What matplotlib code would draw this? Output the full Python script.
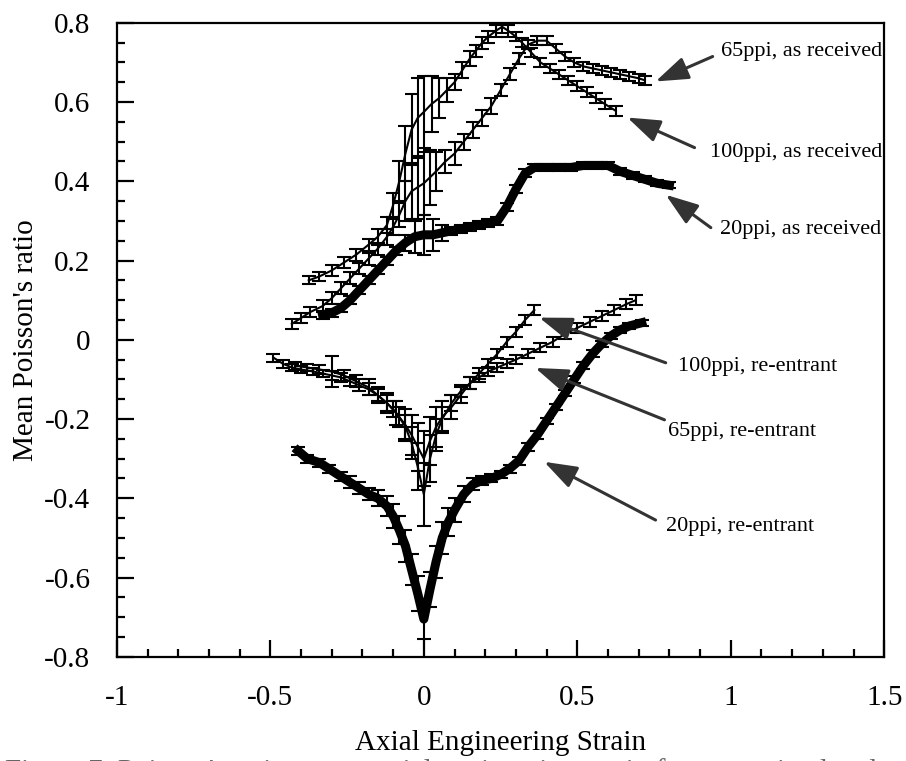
import matplotlib
matplotlib.use("Agg")
import matplotlib.pyplot as plt
from matplotlib.ticker import MultipleLocator, FuncFormatter

plt.rcParams['font.family'] = ['Liberation Serif', 'DejaVu Serif']
plt.rcParams['axes.unicode_minus'] = False

# ---------------- data ----------------
x_100_ar = [-0.375, -0.34, -0.30, -0.26, -0.22, -0.18, -0.15, -0.12, -0.10, -0.08, -0.06, -0.04, -0.02, 0.0,
            0.025, 0.05, 0.075, 0.10, 0.125, 0.15, 0.17, 0.19, 0.21, 0.235, 0.255, 0.275, 0.30, 0.32, 0.35,
            0.38, 0.41, 0.44, 0.47, 0.50, 0.53, 0.56, 0.59, 0.625]
y_100_ar = [0.15, 0.16, 0.175, 0.195, 0.215, 0.24, 0.26, 0.29, 0.34, 0.40, 0.47, 0.53, 0.56, 0.575,
            0.595, 0.61, 0.63, 0.65, 0.68, 0.71, 0.73, 0.75, 0.765, 0.78, 0.79, 0.78, 0.765, 0.75, 0.725,
            0.70, 0.685, 0.67, 0.655, 0.64, 0.625, 0.61, 0.595, 0.578]
e_100_ar = [0.01, 0.012, 0.015, 0.015, 0.015, 0.015, 0.02, 0.02, 0.03, 0.05, 0.07, 0.09, 0.1, 0.09,
            0.07, 0.05, 0.03, 0.02, 0.02, 0.02, 0.015, 0.015, 0.015, 0.015, 0.015, 0.015, 0.012, 0.012, 0.012,
            0.012, 0.012, 0.012, 0.012, 0.012, 0.012, 0.012, 0.012, 0.012]

x_65_ar = [-0.43, -0.40, -0.37, -0.33, -0.30, -0.27, -0.24, -0.21, -0.18, -0.15, -0.12, -0.10, -0.08, -0.06,
           -0.04, -0.02, 0.0, 0.02, 0.04, 0.07, 0.10, 0.13, 0.16, 0.19, 0.22, 0.25, 0.28, 0.31, 0.34, 0.37,
           0.40, 0.43, 0.46, 0.49, 0.52, 0.55, 0.58, 0.61, 0.64, 0.67, 0.70, 0.72]
y_65_ar = [0.04, 0.055, 0.07, 0.085, 0.105, 0.13, 0.155, 0.18, 0.205, 0.23, 0.26, 0.285, 0.315, 0.35,
           0.375, 0.385, 0.395, 0.41, 0.425, 0.45, 0.47, 0.50, 0.53, 0.56, 0.59, 0.63, 0.67, 0.71, 0.745, 0.755,
           0.755, 0.735, 0.715, 0.70, 0.69, 0.685, 0.68, 0.675, 0.67, 0.665, 0.66, 0.655]
e_65_ar = [0.012, 0.012, 0.012, 0.015, 0.015, 0.015, 0.015, 0.015, 0.015, 0.015, 0.02, 0.02, 0.03, 0.05,
           0.07, 0.08, 0.08, 0.07, 0.05, 0.03, 0.03, 0.02, 0.02, 0.02, 0.02, 0.015, 0.015, 0.015, 0.012, 0.012,
           0.012, 0.012, 0.012, 0.012, 0.012, 0.012, 0.012, 0.012, 0.012, 0.012, 0.012, 0.012]

x_20_ar = [-0.33, -0.30, -0.27, -0.24, -0.21, -0.18, -0.15, -0.12, -0.09, -0.06, -0.03, 0.0, 0.03, 0.06,
           0.09, 0.12, 0.15, 0.18, 0.21, 0.24, 0.27, 0.30, 0.33, 0.36, 0.40, 0.44, 0.48, 0.52, 0.56, 0.60,
           0.64, 0.68, 0.72, 0.76, 0.80]
y_20_ar = [0.063, 0.068, 0.08, 0.10, 0.125, 0.15, 0.175, 0.20, 0.225, 0.245, 0.26, 0.265, 0.265, 0.27,
           0.275, 0.28, 0.285, 0.29, 0.295, 0.30, 0.335, 0.38, 0.42, 0.435, 0.435, 0.435, 0.435, 0.44, 0.44, 0.44,
           0.425, 0.415, 0.405, 0.395, 0.39]
e_20_ar = [0.01, 0.01, 0.01, 0.01, 0.01, 0.01, 0.01, 0.01, 0.01, 0.02, 0.04, 0.05, 0.04, 0.02,
           0.01, 0.01, 0.01, 0.01, 0.01, 0.01, 0.01, 0.01, 0.01, 0.008, 0.008, 0.008, 0.008, 0.008, 0.008, 0.008,
           0.008, 0.008, 0.008, 0.008, 0.008]

x_65_re = [-0.49, -0.46, -0.43, -0.40, -0.36, -0.33, -0.30, -0.27, -0.24, -0.21, -0.18, -0.15, -0.12, -0.10,
           -0.08, -0.06, -0.04, -0.02, 0.0, 0.02, 0.04, 0.06, 0.09, 0.12, 0.15, 0.18, 0.21, 0.24, 0.27, 0.30,
           0.34, 0.38, 0.42, 0.46, 0.50, 0.54, 0.58, 0.62, 0.66, 0.69]
y_65_re = [-0.045, -0.06, -0.07, -0.075, -0.08, -0.085, -0.09, -0.095, -0.105, -0.115, -0.125, -0.14, -0.16, -0.175,
           -0.195, -0.22, -0.26, -0.32, -0.39, -0.30, -0.24, -0.20, -0.16, -0.13, -0.11, -0.095, -0.08, -0.07, -0.06, -0.05,
           -0.035, -0.02, -0.005, 0.015, 0.03, 0.045, 0.06, 0.075, 0.09, 0.10]
e_65_re = [0.01, 0.01, 0.01, 0.01, 0.01, 0.01, 0.012, 0.012, 0.012, 0.015, 0.015, 0.015, 0.02, 0.02,
           0.025, 0.03, 0.04, 0.06, 0.08, 0.06, 0.04, 0.03, 0.02, 0.015, 0.015, 0.012, 0.012, 0.012, 0.012, 0.012,
           0.012, 0.012, 0.012, 0.012, 0.012, 0.012, 0.012, 0.012, 0.012, 0.012]

x_100_re = [-0.42, -0.38, -0.34, -0.30, -0.26, -0.22, -0.18, -0.15, -0.12, -0.09, -0.06, -0.04, -0.02, 0.0,
            0.02, 0.04, 0.06, 0.09, 0.12, 0.15, 0.18, 0.21, 0.24, 0.27, 0.30, 0.33, 0.36]
y_100_re = [-0.065, -0.07, -0.075, -0.08, -0.09, -0.105, -0.12, -0.14, -0.16, -0.185, -0.215, -0.24, -0.27, -0.30,
            -0.255, -0.22, -0.195, -0.17, -0.14, -0.11, -0.085, -0.06, -0.035, -0.005, 0.02, 0.05, 0.075]
e_100_re = [0.01, 0.01, 0.012, 0.04, 0.015, 0.015, 0.02, 0.02, 0.025, 0.03, 0.04, 0.05, 0.06, 0.07,
            0.06, 0.05, 0.04, 0.03, 0.02, 0.015, 0.015, 0.012, 0.012, 0.012, 0.012, 0.012, 0.012]

x_20_re = [-0.41, -0.38, -0.34, -0.31, -0.27, -0.24, -0.21, -0.18, -0.15, -0.12, -0.10, -0.08, -0.06, -0.04,
           -0.02, 0.0, 0.02, 0.04, 0.06, 0.08, 0.10, 0.13, 0.16, 0.19, 0.22, 0.25, 0.28, 0.31, 0.34, 0.37,
           0.40, 0.43, 0.46, 0.49, 0.52, 0.55, 0.58, 0.61, 0.64, 0.67, 0.71]
y_20_re = [-0.28, -0.30, -0.31, -0.325, -0.345, -0.36, -0.375, -0.39, -0.40, -0.42, -0.445, -0.48, -0.52, -0.58,
           -0.64, -0.705, -0.63, -0.56, -0.50, -0.46, -0.43, -0.39, -0.365, -0.355, -0.35, -0.34, -0.325, -0.305, -0.27, -0.24,
           -0.205, -0.17, -0.135, -0.10, -0.065, -0.035, -0.01, 0.01, 0.025, 0.035, 0.043]
e_20_re = [0.01, 0.01, 0.01, 0.01, 0.012, 0.015, 0.015, 0.015, 0.02, 0.025, 0.03, 0.035, 0.04, 0.04,
           0.045, 0.05, 0.045, 0.04, 0.04, 0.035, 0.03, 0.02, 0.015, 0.012, 0.01, 0.01, 0.01, 0.01, 0.01, 0.01,
           0.008, 0.008, 0.008, 0.008, 0.008, 0.008, 0.008, 0.008, 0.008, 0.008, 0.008]

labels = ["65ppi, as received", "100ppi, as received", "20ppi, as received",
          "100ppi, re-entrant", "65ppi, re-entrant", "20ppi, re-entrant"]
label_pos = [(0.967, 0.727), (0.931, 0.472), (0.964, 0.278),
             (0.827, -0.068), (0.794, -0.232), (0.788, -0.472)]
arrow_tail = [(0.941, 0.715), (0.882, 0.485), (0.935, 0.283),
              (0.788, -0.058), (0.784, -0.202), (0.755, -0.455)]
arrow_tip = [(0.755, 0.652), (0.663, 0.561), (0.788, 0.366),
             (0.376, 0.056), (0.363, -0.071), (0.392, -0.308)]

# ---------------- figure ----------------
fig = plt.figure(figsize=(9.06, 7.61), dpi=100)
ax = fig.add_axes([0.129, 0.137, 0.847, 0.833])

thin = dict(color='black', lw=1.5, elinewidth=1.5, capsize=5, capthick=1.5)
thick = dict(color='black', lw=6.5, elinewidth=1.5, capsize=5, capthick=1.5)

ax.errorbar(x_100_ar, y_100_ar, yerr=e_100_ar, **thin)
ax.errorbar(x_65_ar, y_65_ar, yerr=e_65_ar, **thin)
ax.errorbar(x_20_ar, y_20_ar, yerr=e_20_ar, **thick)
ax.errorbar(x_65_re, y_65_re, yerr=e_65_re, **thin)
ax.errorbar(x_100_re, y_100_re, yerr=e_100_re, **thin)
ax.errorbar(x_20_re, y_20_re, yerr=e_20_re, **thick)

for lab, tp, tl, tip in zip(labels, label_pos, arrow_tail, arrow_tip):
    ax.text(tp[0], tp[1], lab, fontsize=16, ha='left', va='center')
    ax.annotate('', xy=tip, xytext=tl,
                arrowprops=dict(arrowstyle='-|>,head_length=1.0,head_width=0.35',
                                color='#333333', lw=2.2, mutation_scale=20,
                                shrinkA=0, shrinkB=0))

ax.set_xlim(-1, 1.5)
ax.set_ylim(-0.8, 0.8)
ax.xaxis.set_major_locator(MultipleLocator(0.5))
ax.xaxis.set_minor_locator(MultipleLocator(0.1))
ax.yaxis.set_major_locator(MultipleLocator(0.2))
ax.yaxis.set_minor_locator(MultipleLocator(0.05))
fmt = FuncFormatter(lambda v, p: '%g' % round(v, 6))
ax.xaxis.set_major_formatter(fmt)
ax.yaxis.set_major_formatter(fmt)
ax.tick_params(which='both', direction='in', top=False, right=False, width=1.6)
ax.tick_params(which='major', length=12, labelsize=21)
ax.tick_params(axis='y', which='major', pad=19)
ax.tick_params(axis='x', which='major', pad=20)
ax.tick_params(which='minor', length=6)
for s in ax.spines.values():
    s.set_linewidth(1.6)

ax.set_xlabel('Axial Engineering Strain', fontsize=21, labelpad=14)
ax.set_ylabel("Mean Poisson's ratio", fontsize=21, labelpad=4)

fig.text(0.005, 0.004, "Figure 7: Poisson's ratio versus axial engineering strain for as received and re-entrant foams",
         fontsize=21, color='#666666', ha='left', va='top')

fig.savefig('out.png', dpi=100)
